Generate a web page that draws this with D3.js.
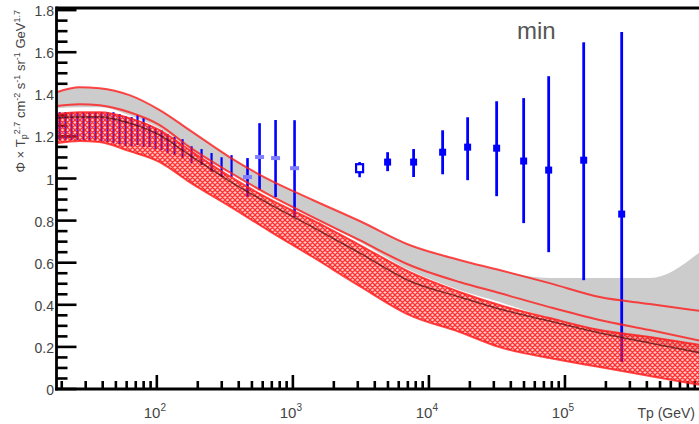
<!DOCTYPE html>
<html><head><meta charset="utf-8">
<script src="https://cdn.jsdelivr.net/npm/d3@7"></script>
<style>body{margin:0;background:#fff;} svg{display:block;font-family:"Liberation Sans",Arial,sans-serif;}</style>
</head><body><svg id="c" width="699" height="424"></svg>
<script>
// ---- data ----
const bandEnergy = [18.3, 27, 38, 63, 105, 174, 342, 674, 1400, 3100, 7200, 16800, 33000, 77000, 180000, 420000, 1000000];
const redUpper   = [1.410,1.434,1.429,1.396,1.325,1.230,1.102,0.993,0.898,0.798,0.684,0.613,0.565,0.503,0.437,0.404,0.370];
const redMiddle  = [1.344,1.353,1.348,1.315,1.254,1.149,1.030,0.921,0.817,0.707,0.589,0.508,0.456,0.389,0.328,0.280,0.228];
const grayUpper  = [1.410,1.434,1.429,1.396,1.325,1.230,1.102,0.993,0.898,0.798,0.684,0.613,0.565,0.527,0.527,0.527,0.655];
const grayLower  = [1.334,1.339,1.339,1.301,1.239,1.144,1.030,0.921,0.812,0.698,0.565,0.470,0.413,0.337,0.271,0.218,0.176];
const hatchUpper = [1.306,1.315,1.315,1.287,1.230,1.135,1.011,0.902,0.802,0.684,0.556,0.461,0.399,0.337,0.280,0.247,0.209];
const hatchLower = [1.168,1.178,1.173,1.130,1.078,0.983,0.869,0.750,0.627,0.489,0.351,0.271,0.199,0.147,0.104,0.062,0.019];
const blackLine  = [1.287,1.292,1.292,1.263,1.206,1.111,0.988,0.878,0.769,0.646,0.513,0.437,0.380,0.323,0.266,0.218,0.171];

const lowE   = [19.3,21.3,23.6,26.1,28.9,32.0,35.4,39.2,43.4,48.0,53.2,58.9,65.2,72.1,79.9,88.4,97.8,108.3,119.9,134.9,154.5,179.9,213.2,252.5,299.1,354.2];
const lowVal = [1.249,1.249,1.249,1.249,1.249,1.249,1.249,1.247,1.244,1.242,1.235,1.225,1.223,1.230,1.218,1.201,1.189,1.182,1.166,1.154,1.142,1.113,1.102,1.076,1.054,1.059];
const lowErr = [0.066,0.066,0.066,0.066,0.066,0.066,0.066,0.069,0.071,0.073,0.071,0.071,0.069,0.071,0.069,0.052,0.050,0.047,0.045,0.043,0.045,0.040,0.038,0.045,0.047,0.052];

const crossE     = [464, 569, 746, 1029];
const crossVal   = [1.007, 1.102, 1.097, 1.049];
const crossErrHi = [0.090, 0.161, 0.181, 0.228];
const crossErrLo = [0.095, 0.157, 0.185, 0.233];

const openE = [3093], openVal = [1.049], openErrHi = [0.029], openErrLo = [0.043];

const sqE     = [4970, 7718, 12613, 19257, 31466, 49700, 75900, 137300, 261200];
const sqVal   = [1.078, 1.078, 1.125, 1.149, 1.144, 1.083, 1.040, 1.087, 0.831];
const sqErrHi = [0.047, 0.062, 0.104, 0.142, 0.223, 0.299, 0.446, 0.560, 0.865];
const sqErrLo = [0.043, 0.071, 0.105, 0.157, 0.228, 0.295, 0.390, 0.570, 0.703];

const yTickVals = [0,0.2,0.4,0.6,0.8,1,1.2,1.4,1.6,1.8];
const yTickLabels = ["0","0.2","0.4","0.6","0.8","1","1.2","1.4","1.6","1.8"];
const xMajor = [100, 1000, 10000, 100000];
const xMajorExp = ["2","3","4","5"];
const panelLabel = "min";
const xTitle = "Tp (GeV)";

// ---- layout ----
const svg = d3.select("#c");
const x = d3.scaleLog().domain([18.3, 1e6]).range([56.5, 701]);
const y = d3.scaleLinear().domain([0, 1.81]).range([389, 8]);

const defs = svg.append("defs");
const pat = defs.append("pattern").attr("id","hatch").attr("patternUnits","userSpaceOnUse").attr("width",5).attr("height",5);
pat.append("path").attr("d","M0,5 L5,0 M-1,1 L1,-1 M4,6 L6,4 M0,0 L5,5 M-1,4 L1,6 M4,-1 L6,1")
   .attr("stroke","#ff0000").attr("stroke-width",1.3).attr("fill","none");

// ticks (under bands)
const tickG = svg.append("g").attr("stroke","#000").attr("stroke-width",2.6);
const yMinor = d3.range(0, 1.8001, 0.05);
yMinor.forEach(v=>{
  const major = Math.abs(v/0.2 - Math.round(v/0.2))<1e-6;
  tickG.append("line").attr("x1",56.5).attr("x2",56.5+(major?20:11)).attr("y1",y(v)).attr("y2",y(v));
});
const xTicks = [];
for (let d=10; d<=1e5; d*=10) for (let k=1;k<10;k++){ const v=d*k; if (v>=18.3 && v<=1e6) xTicks.push({v, major:k===1}); }
xTicks.forEach(t=>{
  tickG.append("line").attr("x1",x(t.v)).attr("x2",x(t.v)).attr("y1",389).attr("y2",389-(t.major?14:8));
});

const idx = d3.range(bandEnergy.length);
const curve = d3.curveMonotoneX;
const area = (up, lo) => d3.area().curve(curve).x(i=>x(bandEnergy[i])).y0(i=>y(lo[i])).y1(i=>y(up[i]))(idx);
const line = (arr) => d3.line().curve(curve).x(i=>x(bandEnergy[i])).y(i=>y(arr[i]))(idx);

svg.append("path").attr("d", area(grayUpper, grayLower)).attr("fill","#cccccc");

// data points
const blue = "#0000ff";
const pts = svg.append("g");
function errBar(e, v, hi, lo, w){
  pts.append("line").attr("x1",x(e)).attr("x2",x(e)).attr("y1",y(v+hi)).attr("y2",y(v-lo)).attr("stroke",blue).attr("stroke-width",w);
}
lowE.forEach((e,i)=>{ errBar(e, lowVal[i], lowErr[i], lowErr[i], 2.2); });
crossE.forEach((e,i)=>{
  errBar(e, crossVal[i], crossErrHi[i], crossErrLo[i], 2.6);
  pts.append("rect").attr("x",x(e)-4.5).attr("y",y(crossVal[i])-2).attr("width",9).attr("height",4).attr("fill","#7f7fff");
});
openE.forEach((e,i)=>{
  errBar(e, openVal[i], openErrHi[i], openErrLo[i], 2.6);
  pts.append("rect").attr("x",x(e)-3.5).attr("y",y(openVal[i])-4).attr("width",7).attr("height",8).attr("fill","#fff").attr("stroke",blue).attr("stroke-width",2.2);
});
sqE.forEach((e,i)=>{
  errBar(e, sqVal[i], sqErrHi[i], sqErrLo[i], 2.8);
  pts.append("rect").attr("x",x(e)-3.5).attr("y",y(sqVal[i])-3.5).attr("width",7).attr("height",7).attr("fill",blue);
});

// hatched band and model lines
svg.append("path").attr("d", area(hatchUpper, hatchLower)).attr("fill","rgba(255,90,90,0.35)");
svg.append("path").attr("d", area(hatchUpper, hatchLower)).attr("fill","url(#hatch)").attr("opacity",0.75);
const redStroke = "#ff1a1a";
[redUpper, redMiddle, hatchUpper, hatchLower].forEach(a=>{
  svg.append("path").attr("d", line(a)).attr("fill","none").attr("stroke",redStroke).attr("stroke-width",2).attr("opacity",0.8);
});
svg.append("path").attr("d", line(blackLine)).attr("fill","none").attr("stroke","#300000").attr("stroke-width",1.5).attr("opacity",0.6);

// frame
svg.append("line").attr("x1",56.5).attr("x2",699).attr("y1",8).attr("y2",8).attr("stroke","#000").attr("stroke-width",2.8);
svg.append("line").attr("x1",56.5).attr("x2",56.5).attr("y1",6.6).attr("y2",390.4).attr("stroke","#000").attr("stroke-width",2.8);
svg.append("line").attr("x1",55).attr("x2",699).attr("y1",389).attr("y2",389).attr("stroke","#000").attr("stroke-width",2.8);

// labels
const txtCol = "#444";
yTickVals.forEach((v,i)=>{
  svg.append("text").attr("x",54).attr("y",y(v)+1).attr("text-anchor","end").attr("dominant-baseline","central")
    .attr("font-size",14).attr("fill",txtCol).text(yTickLabels[i]);
});
xMajor.forEach((v,i)=>{
  const t = svg.append("text").attr("x",x(v)-2).attr("y",418).attr("text-anchor","middle").attr("font-size",15).attr("fill",txtCol);
  t.append("tspan").text("10");
  t.append("tspan").attr("dy",-7).attr("font-size",10).text(xMajorExp[i]);
});
svg.append("text").attr("x",695).attr("y",418).attr("text-anchor","end").attr("font-size",14).attr("fill",txtCol).text(xTitle);
svg.append("text").attr("x",517).attr("y",39).attr("font-size",24).attr("fill","#555").text(panelLabel);

const yt = svg.append("text").attr("transform","translate(25,10) rotate(-90)").attr("text-anchor","end").attr("font-size",13).attr("fill",txtCol);
yt.append("tspan").text("Φ × T");
yt.append("tspan").attr("font-size",9).attr("dy",2).text("p");
yt.append("tspan").attr("font-size",9).attr("dy",-7).text("2.7");
yt.append("tspan").attr("dy",5).text("  cm");
yt.append("tspan").attr("font-size",9).attr("dy",-5).text("-2");
yt.append("tspan").attr("dy",5).text(" s");
yt.append("tspan").attr("font-size",9).attr("dy",-5).text("-1");
yt.append("tspan").attr("dy",5).text(" sr");
yt.append("tspan").attr("font-size",9).attr("dy",-5).text("-1");
yt.append("tspan").attr("dy",5).text(" GeV");
yt.append("tspan").attr("font-size",9).attr("dy",-5).text("1.7");
</script></body></html>
